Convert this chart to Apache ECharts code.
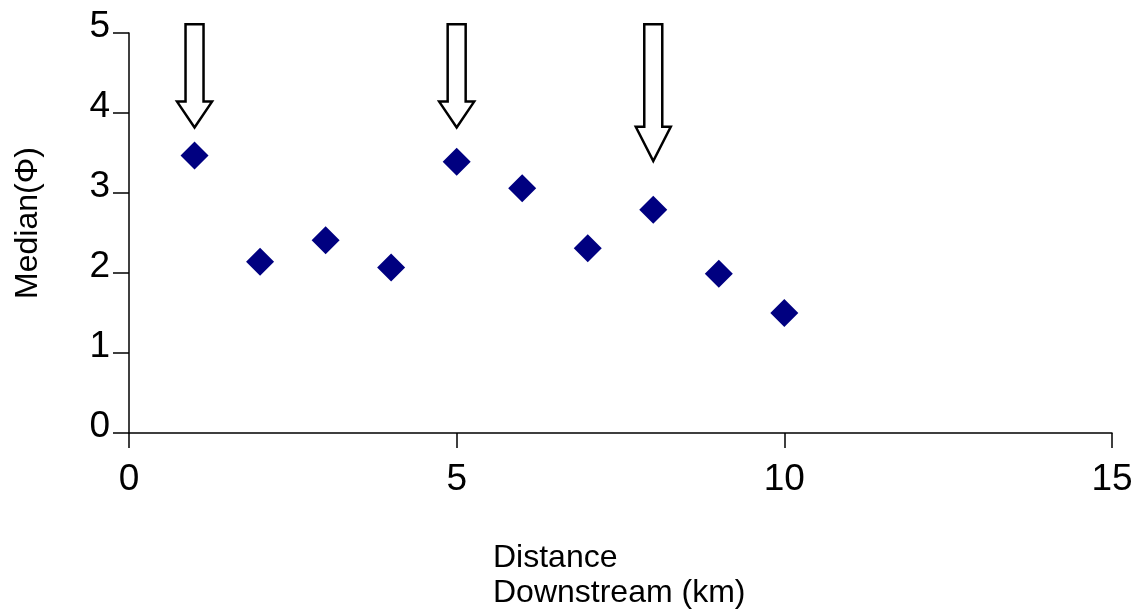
<!DOCTYPE html>
<html>
<head>
<meta charset="utf-8">
<script src="https://cdn.jsdelivr.net/npm/echarts@6/dist/echarts.min.js"></script>
<style>html,body{margin:0;padding:0;background:#fff;}#c{width:1145px;height:612px;}</style>
</head>
<body>
<div id="c"></div>
<script>
// Data
const distanceKm = [1, 2, 3, 4, 5, 6, 7, 8, 9, 10];
const medianPhi = [3.47, 2.14, 2.41, 2.07, 3.39, 3.06, 2.31, 2.79, 1.99, 1.50];
// Arrow annotations: x position, top value, tip value
const arrowX = [1, 5, 8];
const arrowTop = [5.11, 5.11, 5.11];
const arrowTip = [3.82, 3.82, 3.40];
const xTitle = 'Distance\nDownstream (km)';
const yTitle = 'Median(Φ)';

const FONT = '"Liberation Sans", Arial, sans-serif';
const chart = echarts.init(document.getElementById('c'), null, {renderer: 'canvas'});

const arrowData = arrowX.map((x, i) => [x, arrowTop[i], arrowTip[i]]);
const points = distanceKm.map((x, i) => [x, medianPhi[i]]);

chart.setOption({
  backgroundColor: '#ffffff',
  animation: false,
  title: {
    text: xTitle,
    left: 493,
    top: 541,
    padding: 0,
    textStyle: {fontFamily: FONT, fontSize: 32, fontWeight: 'normal', color: '#000', lineHeight: 35}
  },
  grid: {left: 129, right: 33, top: 33, bottom: 179, containLabel: false},
  xAxis: {
    type: 'value', min: 0, max: 15, interval: 5,
    axisLine: {show: true, onZero: false, lineStyle: {color: '#000', width: 1.5}},
    axisTick: {show: true, inside: false, length: 15, lineStyle: {color: '#000', width: 1.5}},
    splitLine: {show: false},
    axisLabel: {fontFamily: FONT, fontSize: 37, color: '#000', margin: 28}
  },
  yAxis: {
    type: 'value', min: 0, max: 5, interval: 1,
    name: yTitle, nameLocation: 'middle', nameGap: 85,
    nameTextStyle: {fontFamily: FONT, fontSize: 32, color: '#000', padding: [0, 0, 0, 20]},
    axisLine: {show: true, onZero: false, lineStyle: {color: '#000', width: 1.5}},
    axisTick: {show: true, inside: false, length: 16, lineStyle: {color: '#000', width: 1.5}},
    splitLine: {show: false},
    axisLabel: {fontFamily: FONT, fontSize: 37, color: '#000', margin: 19, verticalAlign: 'bottom', lineHeight: 13}
  },
  series: [
    {
      type: 'scatter',
      data: points,
      symbol: 'diamond',
      symbolSize: 28,
      itemStyle: {color: '#000080', opacity: 1},
      z: 3
    },
    {
      type: 'custom',
      data: arrowData,
      clip: false,
      z: 4,
      renderItem: function (params, api) {
        const top = api.coord([api.value(0), api.value(1)]);
        const tip = api.coord([api.value(0), api.value(2)]);
        const cx = top[0];
        const L = tip[1] - top[1];
        const headH = L * 0.25;
        const sw = 9, hw = 17.5;
        const hy = tip[1] - headH;
        return {
          type: 'polygon',
          shape: {points: [[cx - sw, top[1]], [cx + sw, top[1]], [cx + sw, hy], [cx + hw, hy], [cx, tip[1]], [cx - hw, hy], [cx - sw, hy]]},
          style: {fill: '#ffffff', stroke: '#000000', lineWidth: 2.5, lineJoin: 'miter'}
        };
      }
    }
  ]
});
</script>
</body>
</html>
